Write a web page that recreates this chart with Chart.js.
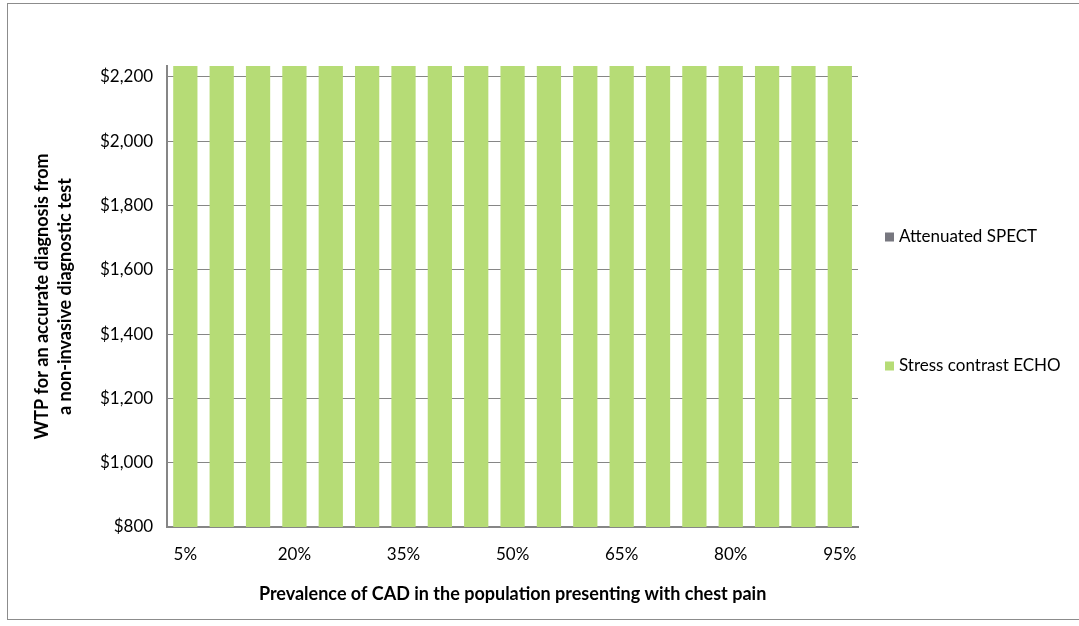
<!DOCTYPE html>
<html>
<head>
<meta charset="utf-8">
<script src="https://cdn.jsdelivr.net/npm/chart.js@4"></script>
<style>
  html, body { margin: 0; padding: 0; background: #fff; }
  #wrap { position: relative; width: 1079px; height: 626px; }
  #frame { position: absolute; left: 7px; top: 3px; width: 1100px; height: 617px; border: 1px solid #8c8c8c; box-sizing: border-box; pointer-events: none; }
  canvas { position: absolute; left: 0; top: 0; }
</style>
</head>
<body>
<div id="wrap">
  <canvas id="chart" width="1079" height="626"></canvas>
  <div id="frame"></div>
</div>
<script>
const prevalence = ['5%','10%','15%','20%','25%','30%','35%','40%','45%','50%','55%','60%','65%','70%','75%','80%','85%','90%','95%'];
// both series run past the top of the axis, so only the green base shows
const stressEcho = [2300,2300,2300,2300,2300,2300,2300,2300,2300,2300,2300,2300,2300,2300,2300,2300,2300,2300,2300];
const attenSpect = [0,0,0,0,0,0,0,0,0,0,0,0,0,0,0,0,0,0,0];
const seriesNames = ['Attenuated SPECT', 'Stress contrast ECHO'];
const seriesColors = ['#77777f', '#b6dc76'];
const yTicks = [800, 1000, 1200, 1400, 1600, 1800, 2000, 2200];

const fontFam = 'Lato, "Open Sans", sans-serif';

// legend drawn by hand: Excel spreads the two entries far apart
const sideLegend = {
    id: 'sideLegend',
    afterDraw(chart) {
        const ctx = chart.ctx;
        const rows = [237, 366];
        ctx.save();
        ctx.font = '17px ' + fontFam;
        ctx.textBaseline = 'middle';
        seriesNames.forEach((name, i) => {
            ctx.fillStyle = seriesColors[i];
            ctx.fillRect(885, rows[i] - 4.5, 9, 9);
            ctx.fillStyle = '#000';
            ctx.fillText(name, 899, rows[i]);
        });
        ctx.restore();
    }
};

new Chart(document.getElementById('chart'), {
    type: 'bar',
    data: {
        labels: prevalence,
        datasets: [
            { label: seriesNames[1], data: stressEcho, backgroundColor: seriesColors[1], categoryPercentage: 1, barPercentage: 0.667, order: 2 },
            { label: seriesNames[0], data: attenSpect, backgroundColor: seriesColors[0], categoryPercentage: 1, barPercentage: 0.667, order: 1 }
        ]
    },
    options: {
        responsive: false,
        animation: false,
        layout: { padding: { top: 66, right: 221, left: 27, bottom: 17 } },
        plugins: {
            legend: { display: false },
            tooltip: { enabled: false }
        },
        scales: {
            x: {
                stacked: true,
                grid: { display: false, drawTicks: false },
                border: { color: '#868686', width: 2 },
                ticks: {
                    autoSkip: false, maxRotation: 0, color: '#000', padding: 17,
                    font: { family: fontFam, size: 17 },
                    callback: (v, i) => (i % 3 === 0 ? prevalence[i] : '')
                },
                title: {
                    display: true, text: 'Prevalence of CAD in the population presenting with chest pain',
                    color: '#000', font: { family: fontFam, size: 18, weight: 'bold' }, padding: { top: 2 }
                }
            },
            y: {
                stacked: true,
                min: 800, max: 2234,
                afterBuildTicks: s => { s.ticks = yTicks.map(v => ({ value: v })); },
                grid: { color: '#868686', drawTicks: false },
                border: { color: '#868686', width: 2 },
                ticks: {
                    color: '#000', padding: 14,
                    font: { family: fontFam, size: 17 },
                    callback: v => '$' + v.toLocaleString('en-US')
                },
                title: {
                    display: true, text: ['WTP for an accurate diagnosis from', 'a non-invasive diagnostic test'],
                    color: '#000', font: { family: fontFam, size: 18, weight: 'bold', lineHeight: 1.25 }, padding: { bottom: 10 }
                }
            }
        }
    },
    plugins: [sideLegend]
});
</script>
</body>
</html>
